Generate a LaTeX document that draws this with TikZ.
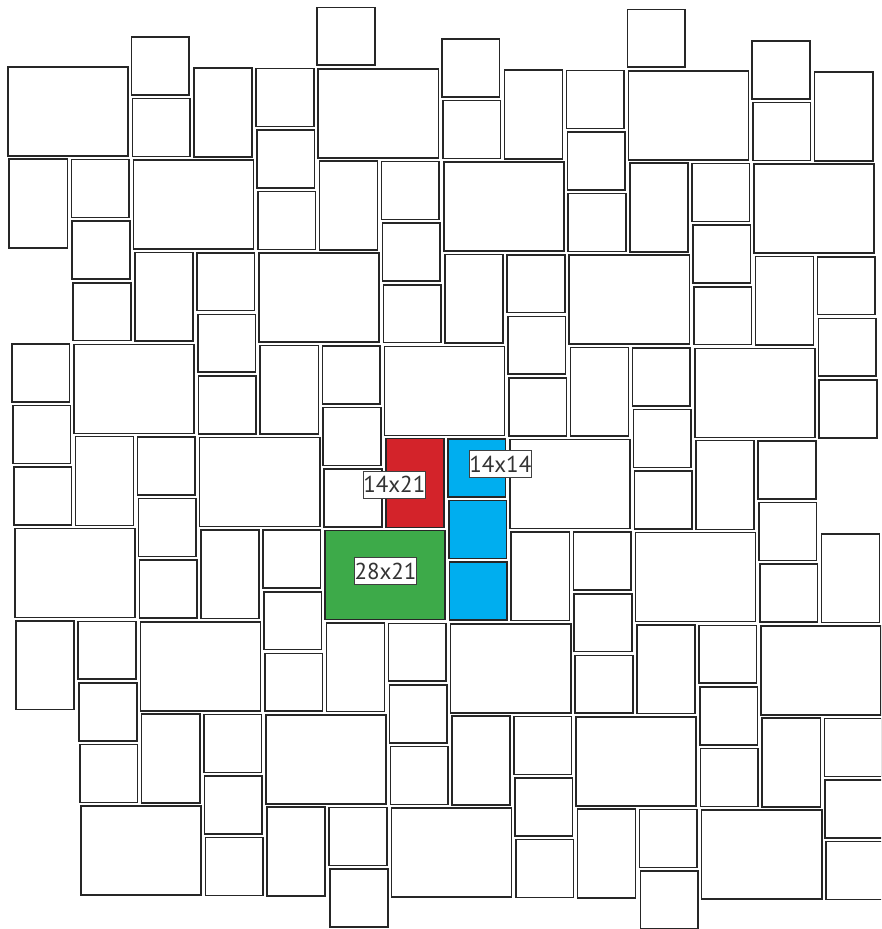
\documentclass[tikz,border=0pt]{standalone}
\usepackage{fontspec}
\newfontfamily\labelfont{PT Sans}
\definecolor{pavered}{RGB}{211,35,42}
\definecolor{paveblue}{RGB}{0,174,239}
\definecolor{pavegreen}{RGB}{61,170,73}

\begin{document}
\begin{tikzpicture}[x=1pt,y=1pt,
  tile/.style={draw=black!85,line width=1.6pt,fill=white},
  sizelabel/.style={draw=black!75,line width=0.8pt,fill=white,text=black!80,
    font=\labelfont\fontsize{23}{26}\selectfont,
    minimum width=62pt,minimum height=27pt,inner sep=0pt}]
  \useasboundingbox (0,0) rectangle (881,-929);
  \clip (0,0) rectangle (881,-929);
  \begin{scope}[shift={(7,-66)},x={(31.03pt,-0.2pt)},y={(0.46pt,-30.78pt)}]
    % 28x21
    \foreach \X/\Y in {0/0,10/0,20/0,4/3,14/3,24/3,8/6,18/6,2/9,12/9,22/9,
      6/12,16/12,0/15,20/15,4/18,14/18,24/18,8/21,18/21,2/24,12/24,22/24}
      \draw[tile] ([shift={(0.9pt,-0.9pt)}]\X,\Y) rectangle ([shift={(-4.5pt,3.2pt)}]\X+4,\Y+3);
    \draw[tile,fill=pavegreen] ([shift={(0.9pt,-0.9pt)}]10,15) rectangle ([shift={(-4.5pt,3.2pt)}]14,18);
    % 14x21
    \foreach \X/\Y in {6/0,16/0,26/0,0/3,10/3,20/3,4/6,14/6,24/6,8/9,18/9,
      2/12,22/12,6/15,16/15,26/15,0/18,10/18,20/18,4/21,14/21,24/21,8/24,18/24}
      \draw[tile] ([shift={(0.9pt,-0.9pt)}]\X,\Y) rectangle ([shift={(-4.5pt,3.2pt)}]\X+2,\Y+3);
    \draw[tile,fill=pavered] ([shift={(0.9pt,-0.9pt)}]12,12) rectangle ([shift={(-4.5pt,3.2pt)}]14,15);
    % 14x14
    \foreach \X/\Y in {10/-2,20/-2,4/1,14/1,24/1,8/4,18/4,2/7,12/7,22/7,
      6/10,16/10,26/10,0/13,10/13,20/13,4/16,24/16,8/19,18/19,2/22,12/22,22/22,
      6/25,16/25,26/25,
      8/0,18/0,2/3,12/3,22/3,6/6,16/6,26/6,0/9,10/9,20/9,4/12,24/12,8/15,18/15,
      2/18,12/18,22/18,6/21,16/21,26/21,10/24,20/24,
      4/-1,14/-1,24/-1,8/2,18/2,2/5,12/5,22/5,6/8,16/8,26/8,0/11,10/11,20/11,
      4/14,24/14,8/17,18/17,2/20,12/20,22/20,6/23,16/23,26/23,10/26,20/26}
      \draw[tile] ([shift={(0.9pt,-0.9pt)}]\X,\Y) rectangle ([shift={(-4.5pt,3.2pt)}]\X+2,\Y+2);
    \foreach \Y in {12,14,16}
      \draw[tile,fill=paveblue] ([shift={(0.9pt,-0.9pt)}]14,\Y) rectangle ([shift={(-4.5pt,3.2pt)}]16,\Y+2);
  \end{scope}
  \node[sizelabel] (labRed)   at (394.3,-484.5) {14x21};
  \node[sizelabel] (labBlue)  at (500.3,-464.2) {14x14};
  \node[sizelabel] (labGreen) at (385.5,-571.2) {28x21};
\end{tikzpicture}
\end{document}
